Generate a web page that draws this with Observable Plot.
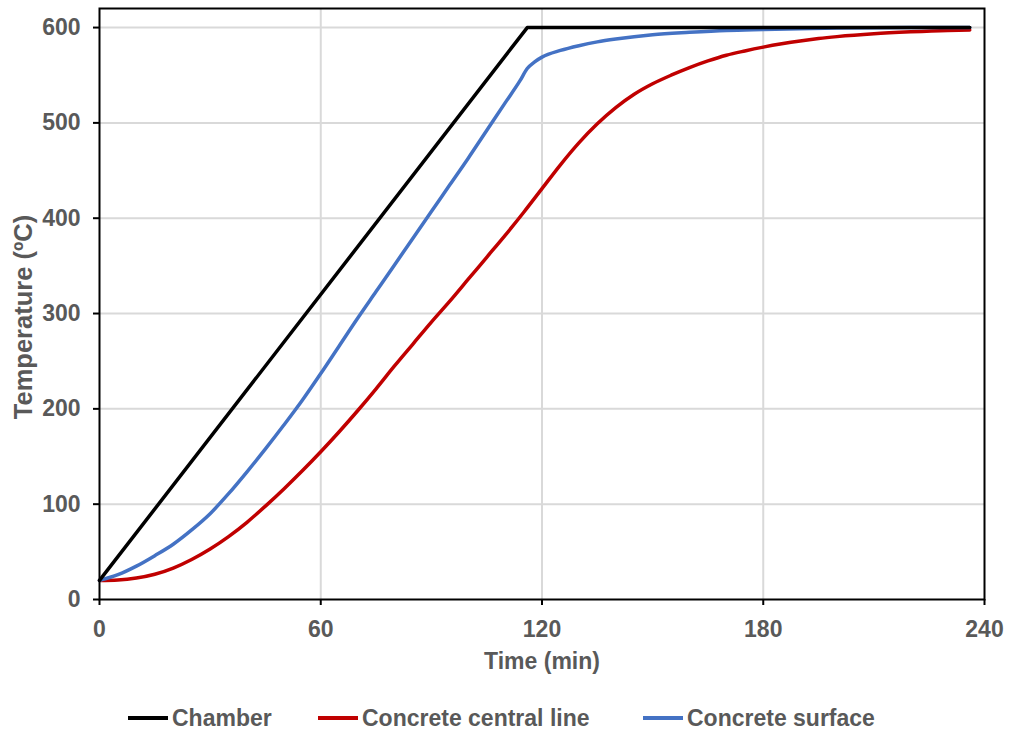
<!DOCTYPE html>
<html>
<head>
<meta charset="utf-8">
<script src="https://cdn.jsdelivr.net/npm/d3@7"></script>
<script src="https://cdn.jsdelivr.net/npm/@observablehq/plot@0.6"></script>
<style>
  body { margin: 0; background: #fff; }
  #wrap { position: relative; width: 1009px; height: 732px; font-family: "Liberation Sans", Arial, sans-serif; }
  .leg { position: absolute; top: 705px; height: 26px; display: flex; align-items: center; font-weight: bold; font-size: 23px; color: #595959; }
  .sw { width: 40px; height: 3.5px; margin-right: 4px; }
</style>
</head>
<body>
<div id="wrap"></div>
<script>
// Chamber
const chamberTime = [0, 116, 236];
const chamberTemp = [20, 600, 600];
// Concrete central line
const centralTime = [0, 5, 10, 15, 20, 25, 30, 35, 40, 45, 50, 55, 60, 65, 70, 75, 80, 85, 90, 95, 100, 105, 110, 115, 120, 125, 130, 135, 140, 145, 150, 155, 160, 165, 170, 175, 180, 185, 190, 195, 200, 210, 220, 230, 236];
const centralTemp = [20, 20.5, 22.5, 26.5, 33, 42, 53, 66, 81, 98, 116, 135, 155, 176, 198, 221, 245, 268, 291, 313, 336, 359, 382, 406, 431, 456, 479, 499, 516, 530, 541, 550, 558, 565, 571, 575.5, 579.5, 583, 586, 588.5, 590.5, 593.5, 595.5, 597, 597.5];
// Concrete surface
const surfaceTime = [0, 5, 10, 15, 20, 25, 30, 35, 40, 45, 50, 55, 60, 65, 70, 75, 80, 85, 90, 95, 100, 105, 110, 114, 116, 118, 120, 125, 130, 135, 140, 150, 160, 170, 180, 200, 220, 236];
const surfaceTemp = [20, 26, 35, 46, 58, 73, 90, 111, 134, 158, 183, 209, 237, 266, 295, 323, 351, 379, 407, 435, 463, 492, 521, 544, 557, 564, 569, 576, 581, 585, 588, 592.5, 595, 597, 598, 599.5, 600, 600];

const xTicks = [0, 60, 120, 180, 240];
const yTicks = [0, 100, 200, 300, 400, 500, 600];
const seriesNames = ["Chamber", "Concrete central line", "Concrete surface"];
const seriesColors = ["#000000", "#c00000", "#4472c4"];

const chamberRows = chamberTime.map((t, i) => ({series: seriesNames[0], t, v: chamberTemp[i]}));
const curveRows = [];
centralTime.forEach((t, i) => curveRows.push({series: seriesNames[1], t, v: centralTemp[i]}));
surfaceTime.forEach((t, i) => curveRows.push({series: seriesNames[2], t, v: surfaceTemp[i]}));

const chart = Plot.plot({
  width: 1009,
  height: 680,
  marginTop: 8,
  marginRight: 25,
  marginBottom: 81,
  marginLeft: 99,
  style: {fontFamily: "Liberation Sans, Arial, sans-serif", fontSize: "23px", fontWeight: "bold", color: "#595959", background: "#fff"},
  x: {domain: [0, 240]},
  y: {domain: [0, 620]},
  color: {domain: seriesNames, range: seriesColors},
  marks: [
    Plot.gridX(xTicks.slice(1, -1), {stroke: "#d9d9d9", strokeWidth: 2, strokeOpacity: 1}),
    Plot.gridY(yTicks.slice(1), {stroke: "#d9d9d9", strokeWidth: 2, strokeOpacity: 1}),
    Plot.axisX(xTicks, {tickSize: 6, tickPadding: 15, stroke: "black", strokeWidth: 2, label: null}),
    Plot.axisY(yTicks, {tickSize: 6, tickPadding: 13, stroke: "black", strokeWidth: 2, label: null}),
    Plot.line(curveRows, {x: "t", y: "v", z: "series", stroke: "series", strokeWidth: 3.5, curve: "monotone-x"}),
    Plot.line(chamberRows, {x: "t", y: "v", z: "series", stroke: "series", strokeWidth: 3.5, curve: "linear"}),
    Plot.frame({stroke: "black", strokeWidth: 2}),
    Plot.text(["Time (min)"], {frameAnchor: "bottom", lineAnchor: "middle", dy: 62, fill: "#595959", fontWeight: "bold", fontSize: 23}),
    Plot.text(["Temperature (ºC)"], {frameAnchor: "left", textAnchor: "middle", lineAnchor: "middle", dx: -76, dy: 13, rotate: -90, fill: "#595959", fontWeight: "bold", fontSize: 25.5})
  ]
});
const wrap = document.getElementById("wrap");
wrap.appendChild(chart);

const legendX = [128, 318, 643];
seriesNames.forEach((name, i) => {
  const d = document.createElement("div");
  d.className = "leg";
  d.style.left = legendX[i] + "px";
  const sw = document.createElement("div");
  sw.className = "sw";
  sw.style.background = seriesColors[i];
  const tx = document.createElement("span");
  tx.textContent = name;
  d.appendChild(sw);
  d.appendChild(tx);
  wrap.appendChild(d);
});
</script>
</body>
</html>
